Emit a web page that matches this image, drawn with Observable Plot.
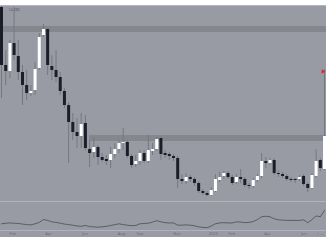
<!DOCTYPE html>
<html><head><meta charset="utf-8">
<script src="https://cdn.jsdelivr.net/npm/d3@7"></script>
<script src="https://cdn.jsdelivr.net/npm/@observablehq/plot@0.6"></script>
<style>
html,body{margin:0;padding:0;background:#fff;font-family:"DejaVu Sans",sans-serif;}
#wrap{width:326px;padding-top:5px;}
#topline{height:1px;background:#b4b6bc;}
#sep{height:1px;background:#b1b3ba;}
svg{display:block;}
</style></head><body>
<div id="wrap"><div id="topline"></div><div id="main"></div><div id="sep"></div><div id="ind"></div></div>
<script>
// weekly candles (price units)
const opens  = [1.98,1.40,1.34,1.62,1.49,1.33,1.20,1.12,1.15,1.37,1.70,1.76,1.39,1.35,1.28,1.14,1.00,0.83,0.73,0.69,
                0.82,0.56,0.53,0.58,0.48,0.46,0.45,0.51,0.56,0.62,0.63,0.49,0.41,0.44,0.52,0.44,0.54,0.56,0.67,0.52,
                0.51,0.49,0.47,0.26,0.24,0.28,0.26,0.22,0.14,0.12,0.10,0.14,0.25,0.29,0.32,0.28,0.23,0.28,0.26,0.20,
                0.19,0.25,0.29,0.44,0.42,0.45,0.32,0.31,0.29,0.26,0.26,0.26,0.29,0.21,0.17,0.29,0.45,0.36];
const highs  = [1.99,1.55,1.65,1.98,1.65,1.40,1.35,1.20,1.43,1.72,1.81,1.77,1.50,1.55,1.33,1.17,1.03,0.92,0.87,0.92,
                0.90,0.65,0.68,0.60,0.52,0.50,0.58,0.62,0.65,0.77,0.65,0.51,0.50,0.55,0.55,0.70,0.62,0.68,0.68,0.55,
                0.53,0.51,0.49,0.31,0.32,0.30,0.28,0.24,0.16,0.14,0.18,0.31,0.33,0.34,0.34,0.30,0.31,0.36,0.28,0.22,
                0.27,0.31,0.52,0.48,0.47,0.47,0.35,0.33,0.31,0.28,0.27,0.30,0.31,0.23,0.32,0.56,0.47,1.36];
const lows   = [1.07,1.20,1.27,1.45,1.25,1.00,1.05,1.09,1.10,1.35,1.68,1.30,1.25,1.23,1.10,0.97,0.42,0.65,0.57,0.57,
                0.55,0.38,0.47,0.40,0.43,0.40,0.37,0.47,0.52,0.55,0.47,0.37,0.38,0.40,0.42,0.42,0.50,0.54,0.45,0.47,
                0.45,0.44,0.17,0.21,0.21,0.23,0.19,0.12,0.10,0.09,0.09,0.13,0.23,0.26,0.26,0.20,0.21,0.22,0.18,0.16,
                0.17,0.23,0.27,0.37,0.40,0.30,0.28,0.27,0.24,0.23,0.22,0.24,0.19,0.13,0.16,0.27,0.34,0.35];
const closes = [1.40,1.34,1.62,1.50,1.33,1.20,1.12,1.14,1.36,1.68,1.76,1.40,1.35,1.28,1.14,1.00,0.83,0.73,0.69,0.81,
                0.57,0.52,0.58,0.48,0.45,0.44,0.51,0.56,0.62,0.63,0.49,0.40,0.44,0.52,0.44,0.55,0.56,0.66,0.51,0.50,
                0.49,0.47,0.26,0.24,0.28,0.26,0.22,0.14,0.12,0.10,0.15,0.26,0.28,0.32,0.28,0.22,0.28,0.26,0.20,0.19,
                0.25,0.29,0.44,0.42,0.45,0.32,0.31,0.29,0.26,0.25,0.25,0.28,0.21,0.17,0.30,0.44,0.37,0.69];
// oscillator in lower pane (0-100)
const oscillator = [24,26,27,26,25,23,21,20,24,29,39,36,31,29,26,23,21,19,16,15,
                    18,14,13,12,13,15,18,21,24,21,19,17,18,24,25,26,30,35,31,28,
                    27,27,19,19,20,19,17,13,11,10,16,24,27,28,27,27,31,30,28,29,
                    32,39,49,51,49,42,38,37,36,36,36,36,38,28,39,52,49,72];
// horizontal zones (price from/to, first candle index)
const zoneLow   = [1.73,0.64];
const zoneHigh  = [1.79,0.70];
const zoneStart = [-0.3,21];
// time axis
const tickIndex  = [2.7,11.2,19.9,28.6,33.0,41.8,50.5,54.9,63.4,72.1];
const tickLabels = ["Feb","Apr","Jun","Aug","Sep","Nov","2023","Feb","Apr","Jun"];
const lastPriceTag = [{i:76.6, p:1.34}];

const xDomain = [-0.24, 77.47];
const candles = opens.map((o,i)=>({i, o, h:highs[i], l:lows[i], c:closes[i]}));
const up = candles.filter(d=>d.c>=d.o), down = candles.filter(d=>d.c<d.o);
const zones = zoneLow.map((v,k)=>({from:v, to:zoneHigh[k], start:zoneStart[k], end:xDomain[1]+0.5}));
const osc = oscillator.map((v,i)=>({i, v}));
const bg = "#999ba4";

const main = Plot.plot({
  width:326, height:195, margin:0,
  x:{domain:xDomain, axis:null},
  y:{domain:[0.04,1.99], axis:null},
  style:{background:bg, overflow:"hidden"},
  marks:[
    Plot.rect(zones, {x1:"start", x2:"end", y1:"from", y2:"to", fill:"#85878f"}),
    Plot.ruleX(candles, {x:"i", y1:"l", y2:"h", stroke:"#757781", strokeWidth:1}),
    Plot.ruleX(down, {x:"i", y1:"o", y2:"c", stroke:"#1b1d29", strokeWidth:3}),
    Plot.ruleX(up, {x:"i", y1:"o", y2:"c", stroke:"#ffffff", strokeWidth:3}),
    Plot.dot(lastPriceTag, {x:"i", y:"p", symbol:"triangle", rotate:90, r:1.6, fill:"#e3262e"}),
    Plot.text(["14.388"], {frameAnchor:"top-left", dx:8, dy:2, fontSize:3.5, fill:"#5a5c66"})
  ]
});
document.getElementById("main").append(main);

const lab = new Map(tickIndex.map((p,k)=>[p, tickLabels[k]]));
const ind = Plot.plot({
  width:326, height:35, marginTop:0, marginBottom:7, marginLeft:0, marginRight:0,
  x:{domain:xDomain},
  y:{domain:[0,100], axis:null},
  style:{background:bg, overflow:"hidden", color:"#6a6c75"},
  marks:[
    Plot.ruleY([0], {stroke:"#b1b3ba", strokeWidth:1}),
    Plot.lineY(osc, {x:"i", y:"v", stroke:"#4a4c56", strokeWidth:0.8}),
    Plot.axisX({ticks:tickIndex, tickFormat:d=>lab.get(d), tickSize:0, tickPadding:1.5, fontSize:4})
  ]
});
document.getElementById("ind").append(ind);
</script>
</body></html>
